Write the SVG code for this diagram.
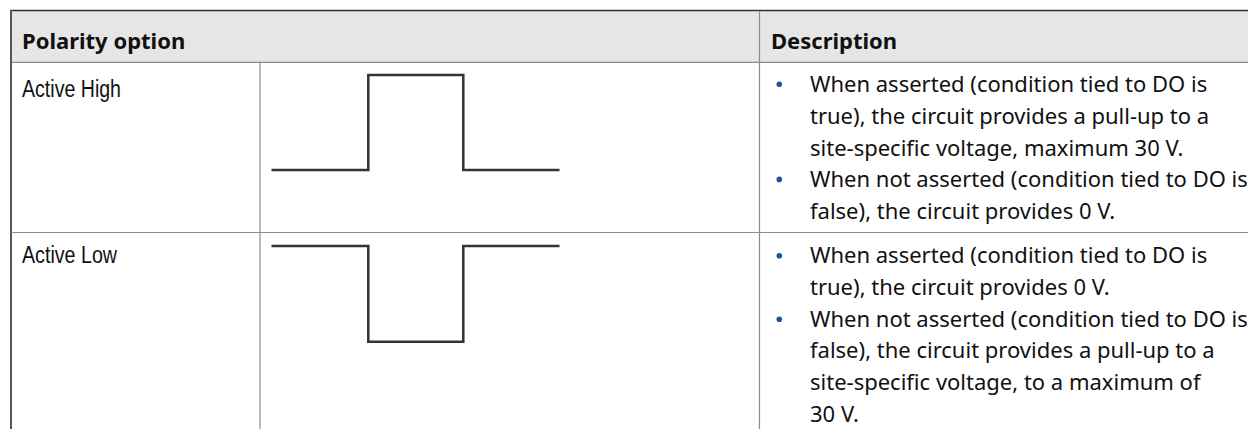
<svg xmlns="http://www.w3.org/2000/svg" width="1248" height="429" viewBox="0 0 1248 429">
<style>
.hdr{font-family:"Noto Sans","Liberation Sans",sans-serif;font-weight:bold;font-size:22px;fill:#111}
.opt{font-family:"Liberation Sans",Arial,sans-serif;font-size:23px;fill:#111}
.desc{font-family:"Noto Sans","Liberation Sans",sans-serif;font-size:22px;fill:#111}
.grid{stroke:#8c8c8c;stroke-width:1.2;fill:none}
.wave{stroke:#333;stroke-width:2.5;fill:none;stroke-linejoin:miter}
.bul{fill:#1a56a0}
</style>
<rect x="0" y="0" width="1248" height="429" fill="#fff"/>
<g id="header">
<rect x="11" y="10.5" width="1237" height="51.5" fill="#e6e6e6"/>
<line x1="10" y1="10.5" x2="1248" y2="10.5" stroke="#333" stroke-width="1.5"/>
<line x1="11" y1="62.3" x2="1248" y2="62.3" class="grid"/>
<text class="hdr" x="22" y="48.5">Polarity option</text>
<text class="hdr" x="771" y="48.5">Description</text>
</g>
<g id="grid">
<line x1="11" y1="10" x2="11" y2="429" stroke="#555" stroke-width="2"/>
<line x1="260" y1="62.3" x2="260" y2="429" class="grid"/>
<line x1="759.5" y1="11" x2="759.5" y2="429" class="grid"/>
<line x1="11" y1="232.5" x2="1248" y2="232.5" class="grid"/>
</g>
<g id="row-active-high">
<text class="opt" x="22" y="97" textLength="99" lengthAdjust="spacingAndGlyphs">Active High</text>
<polyline class="wave" points="271.5,170 368.3,170 368.3,75 463.3,75 463.3,170 559.5,170"/>
<circle class="bul" cx="779.3" cy="84.3" r="2.8"/>
<circle class="bul" cx="779.3" cy="179.4" r="2.8"/>
<text class="desc" x="810" y="92.3">When asserted (condition tied to DO is</text>
<text class="desc" x="810" y="124">true), the circuit provides a pull-up to a</text>
<text class="desc" x="810" y="155.7">site-specific voltage, maximum 30 V.</text>
<text class="desc" x="810" y="187.4">When not asserted (condition tied to DO is</text>
<text class="desc" x="810" y="219">false), the circuit provides 0 V.</text>
</g>
<g id="row-active-low">
<text class="opt" x="22" y="263" textLength="95" lengthAdjust="spacingAndGlyphs">Active Low</text>
<polyline class="wave" points="271.5,246 368.3,246 368.3,341.7 463.3,341.7 463.3,246 559.5,246"/>
<circle class="bul" cx="779.3" cy="255.7" r="2.8"/>
<circle class="bul" cx="779.3" cy="319.3" r="2.8"/>
<text class="desc" x="810" y="263.3">When asserted (condition tied to DO is</text>
<text class="desc" x="810" y="295">true), the circuit provides 0 V.</text>
<text class="desc" x="810" y="326.7">When not asserted (condition tied to DO is</text>
<text class="desc" x="810" y="358.4">false), the circuit provides a pull-up to a</text>
<text class="desc" x="810" y="390">site-specific voltage, to a maximum of</text>
<text class="desc" x="810" y="421.7">30 V.</text>
</g>
</svg>
